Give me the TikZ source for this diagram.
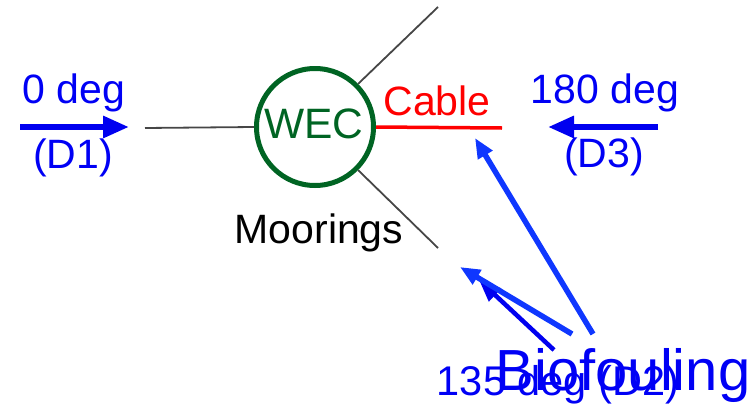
\documentclass[tikz,border=0pt]{standalone}
\usepackage{fontspec}
\setmainfont{Liberation Sans}
\usetikzlibrary{arrows.meta}
\definecolor{wecgreen}{RGB}{0,100,35}
\definecolor{txtblue}{RGB}{0,0,245}
\definecolor{arrblue}{RGB}{0,0,240}
\definecolor{bioblue}{RGB}{15,55,255}
\definecolor{moorgray}{RGB}{70,70,70}
\begin{document}
\begin{tikzpicture}[x=1pt,y=-1pt,
  lbl/.style={anchor=base,inner sep=0pt,font=\fontsize{41}{49}\selectfont},
  dirarrow/.style={arrblue,line width=6pt,-{Triangle[length=26pt,width=21pt]}},
  bioarrow/.style={bioblue,line width=5.5pt,-{Triangle[length=20pt,width=16pt]}},
  mooring/.style={moorgray,line width=1.8pt}]
\useasboundingbox (0,0) rectangle (754,407);
% WEC
\node[circle,draw=wecgreen,line width=5pt,minimum size=117pt,inner sep=0pt] (wec) at (315,127) {};
\node[lbl,text=wecgreen,font=\fontsize{42.5}{50}\selectfont] (weclbl) at (314,138) {WEC};
% moorings and cable
\coordinate (mleft) at (145,128);
\coordinate (mup) at (438,7);
\coordinate (mdown) at (438,248);
\coordinate (cableend) at (502,128);
\draw[mooring] (mleft) -- (wec.west);
\draw[mooring] (wec.45) -- (mup);
\draw[mooring] (wec.-45) -- (mdown);
\draw[red,line width=3.5pt] (wec.east) -- (cableend);
\node[lbl,text=red] (cable) at (437,115) {Cable};
\node[lbl] (moor) at (319,243) {Moorings};
% D1
\node[lbl,text=txtblue] (d1t) at (74,103) {0 deg};
\node[lbl,text=txtblue] (d1b) at (73,168) {(D1)};
\coordinate (d1s) at (20,127);
\coordinate (d1e) at (129,127);
\draw[dirarrow] (d1s) -- (d1e);
% D3
\node[lbl,text=txtblue] (d3t) at (605,103) {180 deg};
\node[lbl,text=txtblue] (d3b) at (604,167) {(D3)};
\coordinate (d3s) at (658,127);
\coordinate (d3e) at (548,127);
\draw[dirarrow] (d3s) -- (d3e);
% D2 and biofouling
\node[lbl,text=txtblue,font=\fontsize{41.5}{49}\selectfont] (d2) at (558,395) {135 deg (D2)};
\node[anchor=base,inner sep=0pt,font=\fontsize{58}{66}\selectfont,text=txtblue] (bio) at (623,390) {Biofouling};
\coordinate (d2s) at (554,350);
\coordinate (d2e) at (479,280);
\draw[arrblue,line width=4.5pt,-{Triangle[length=22pt,width=17pt]}] (d2s) -- (d2e);
\coordinate (b1s) at (593,334);
\coordinate (b1e) at (475,138);
\draw[bioarrow] (b1s) -- (b1e);
\coordinate (b2s) at (572,334);
\coordinate (b2e) at (460,267);
\draw[bioarrow] (b2s) -- (b2e);
\end{tikzpicture}
\end{document}
